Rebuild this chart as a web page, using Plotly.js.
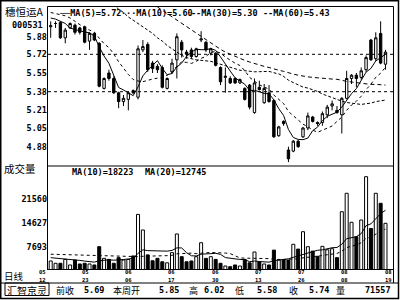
<!DOCTYPE html>
<html><head><meta charset="utf-8">
<script src="https://cdn.plot.ly/plotly-3.0.1.min.js"></script>
<style>html,body{margin:0;padding:0;background:#fff;}#chart{width:400px;height:300px;}</style>
</head><body><div id="chart"></div>
<script>
// ---------- data ----------
const openP  = [5.97,6.00,6.01,5.87,5.96,5.985,5.96,5.97,5.84,5.91, 5.82,5.41,5.55,5.50,5.37,5.29,5.31,5.39,5.33,5.76, 5.81,5.64,5.61,5.60,5.41,5.56,5.67,5.83,5.74,5.76, 5.70,5.85,5.83,5.73,5.73,5.60,5.51,5.50,5.50,5.46, 5.41,5.44,5.19,5.42,5.28,5.37,5.30,4.98,5.11,4.85, 4.84,4.93,4.97,5.05,5.15,5.10,5.10,5.17,5.25,5.21, 5.17,5.32,5.50,5.53,5.51,5.58,5.85,5.68,5.91,5.63];
const highP  = [6.02,6.02,6.02,5.96,6.01,6.00,5.97,5.98,5.92,5.92, 5.83,5.51,5.58,5.52,5.38,5.35,5.38,5.40,5.80,5.85, 5.83,5.66,5.63,5.62,5.51,5.68,5.91,5.85,5.76,5.78, 5.78,5.93,5.84,5.78,5.74,5.61,5.60,5.52,5.51,5.50, 5.42,5.45,5.50,5.48,5.45,5.44,5.31,5.07,5.12,4.88, 4.94,4.94,5.06,5.19,5.16,5.11,5.20,5.26,5.30,5.25, 5.33,5.57,5.54,5.55,5.60,5.71,5.86,5.92,6.02,5.76];
const lowP   = [5.87,5.96,5.86,5.82,5.95,5.90,5.90,5.82,5.76,5.84, 5.42,5.40,5.48,5.36,5.23,5.25,5.21,5.36,5.31,5.74, 5.56,5.55,5.55,5.41,5.40,5.54,5.50,5.69,5.68,5.68, 5.69,5.83,5.74,5.71,5.61,5.44,5.37,5.45,5.45,5.45, 5.30,5.22,5.18,5.39,5.27,5.28,4.96,4.97,5.07,4.74, 4.83,4.87,4.96,5.03,5.10,5.07,5.07,5.14,5.21,5.18, 5.00,5.31,5.45,5.42,5.49,5.56,5.66,5.66,5.63,5.58];
const closeP = [5.98,6.00,5.87,5.94,6.00,5.92,5.92,5.83,5.91,5.85, 5.43,5.50,5.50,5.37,5.29,5.32,5.37,5.37,5.77,5.79, 5.58,5.59,5.58,5.42,5.50,5.64,5.88,5.76,5.72,5.70, 5.77,5.86,5.76,5.77,5.62,5.47,5.52,5.46,5.46,5.49, 5.31,5.24,5.46,5.40,5.41,5.29,4.97,5.06,5.09,4.77, 4.93,4.88,5.05,5.16,5.11,5.09,5.18,5.24,5.27,5.19, 5.32,5.50,5.53,5.50,5.57,5.69,5.67,5.87,5.64,5.74];
const ma5  = [6.05,6.04,6.02,6.00,5.958,5.946,5.930,5.922,5.916,5.886, 5.788,5.704,5.638,5.530,5.418,5.396,5.370,5.344,5.424,5.524, 5.576,5.620,5.662,5.592,5.534,5.546,5.604,5.640,5.700,5.740, 5.766,5.762,5.762,5.772,5.756,5.696,5.628,5.568,5.506,5.480, 5.448,5.392,5.392,5.380,5.364,5.360,5.306,5.226,5.164,5.036, 4.964,4.946,4.944,4.958,5.026,5.058,5.118,5.156,5.178,5.194, 5.240,5.304,5.362,5.408,5.484,5.558,5.592,5.660,5.688,5.722];
const ma10 = [6.10,6.09,6.08,6.07,6.05,6.02,5.99,5.96,5.94,5.922, 5.867,5.817,5.780,5.723,5.652,5.592,5.537,5.491,5.477,5.471, 5.486,5.495,5.503,5.508,5.529,5.561,5.612,5.651,5.646,5.637, 5.656,5.683,5.701,5.736,5.748,5.731,5.695,5.665,5.639,5.618, 5.572,5.510,5.480,5.443,5.422,5.404,5.349,5.309,5.272,5.200, 5.162,5.126,5.085,5.061,5.031,5.011,5.032,5.050,5.068,5.110, 5.149,5.211,5.259,5.293,5.339,5.399,5.448,5.511,5.548,5.603];
const ma30 = [null,null,null,null,null,null,null,null,null,null, null,null,6.20,6.17,6.13,6.10,6.06,6.03,6.00,5.97, 5.94,5.91,5.87,5.84,5.80,5.77,5.74,5.71,5.69,5.677, 5.670,5.665,5.661,5.656,5.643,5.628,5.615,5.602,5.587,5.575, 5.571,5.563,5.561,5.562,5.566,5.565,5.552,5.542,5.519,5.485, 5.463,5.440,5.422,5.413,5.400,5.382,5.359,5.341,5.326,5.309, 5.294,5.282,5.275,5.266,5.264,5.271,5.276,5.290,5.296,5.304];
const ma60 = [null,null,null,null,null,null,null,null,null,null, null,null,null,null,null,null,null,null,null,null, null,null,6.15,6.12,6.09,6.06,6.03,6.00,5.97,5.94, 5.91,5.88,5.85,5.82,5.79,5.765,5.74,5.72,5.70,5.68, 5.665,5.65,5.635,5.62,5.61,5.60,5.585,5.575,5.565,5.55, 5.54,5.53,5.52,5.515,5.51,5.505,5.50,5.497,5.495,5.493, 5.482,5.474,5.468,5.461,5.454,5.450,5.446,5.447,5.442,5.440];
const volume = [3530,2860,2860,4000,2370,3820,2660,2860,2660,2370, 7693,4300,4000,2860,4500,3820,4000,5000,17100,12560, 5300,3600,4300,3300,3000,5960,11400,4780,3300,3530, 4780,8860,4300,4780,4000,2860,2070,1870,2370,2070, 4000,3000,6150,3300,2660,2370,6700,3820,3820,3820, 8390,7000,12060,7693,6400,4900,7800,6800,7100,4500, 17890,23250,14800,10600,15470,28084,13000,23250,20335,14510];
const volMa10 = [4500,4400,4300,4200,4000,3900,3700,3500,3300,3199, 3615,3759,3873,3759,3972,3972,4106,4320,5764,6783, 6544,6474,6504,6548,6398,6612,7352,7330,5950,5047, 4995,5521,5521,5669,5769,5459,4526,4235,4142,3996, 3918,3332,3517,3369,3235,3186,3649,3844,3989,4164, 4603,5003,5594,6033,6407,6660,6770,7068,7396,7464, 8414,10039,10313,10604,11511,13829,14349,15994,17318,18319];
const volMa20 = [5500,5450,5400,5350,5300,5250,5200,5150,5100,5050, 5050,5000,4950,4900,4850,4800,4750,4700,4800,4891, 4980,5017,5089,5054,5085,5192,5629,5725,5757,5815, 5670,5898,5913,6009,5984,5936,5839,5683,4946,4422, 4357,4327,4419,4419,4402,4223,3988,3940,3966,3980, 4161,4068,4456,4601,4721,4823,5110,5356,5593,5714, 6409,7421,7854,8219,8859,10145,10460,11431,12257,12792];

const priceTicks = [5.88,5.72,5.55,5.38,5.21,5.05,4.88];
const priceTickText = ['5.88','5.72','5.55','5.38','5.21','5.05','4.88'];
const refLevels = [5.72,5.38];
const volTicks = [21560,14627,7693];
const volTickText = ['21560','14627','7693'];
const dateMonths = ['05','05','06','06','06','07','07','08','08'];
const dateDays   = ['12','23','06','17','30','13','26','08','19'];
const priceLegend = ['──MA(5)=5.72','···MA(10)=5.60','--MA(30)=5.30','--MA(60)=5.43'];
const volLegend = ['MA(10)=18223','MA(20)=12745'];
const stockName = '穗恒运A', stockCode = '000531';
const infoLabels = ['前收','本周开','高','低','收','量'];
const infoValues = ['5.69','5.85','6.02','5.58','5.74','71557'];

// ---------- layout geometry (pixels) ----------
const L=48, R=393, T=6, B=270, SPLIT=166;
const px2x = p => (p-L)/(R-L);
const py2y = p => (B-p)/(B-T);
const BAR0=50.7, STEP=4.852;
const idx = closeP.map((_,i)=>i);
const priceAt = p => 5.38 + (91.7-p)/110;
const volAt = p => 7693 + (246.7-p)*291.3;

const MONO = 'DejaVu Sans Mono';
const CJK = 'Noto Sans CJK SC';
const monoFont = (s)=>({family:MONO,size:s||8.5,color:'#000',weight:'bold'});
const cjkFont = (s)=>({family:CJK,size:s||10,color:'#000'});

const traces = [
  {type:'candlestick', x:idx, open:openP, high:highP, low:lowP, close:closeP,
   xaxis:'x', yaxis:'y', whiskerwidth:0, hoverinfo:'skip',
   increasing:{line:{color:'#000',width:1}, fillcolor:'#fff'},
   decreasing:{line:{color:'#000',width:1}, fillcolor:'#000'}},
  {type:'scatter', mode:'lines', x:idx, y:ma5, yaxis:'y', line:{color:'#000',width:1}, hoverinfo:'skip'},
  {type:'scatter', mode:'lines', x:idx, y:ma10, yaxis:'y', line:{color:'#000',width:1,dash:'dot'}, hoverinfo:'skip'},
  {type:'scatter', mode:'lines', x:idx, y:ma30, yaxis:'y', line:{color:'#000',width:1,dash:'3px,2px'}, hoverinfo:'skip'},
  {type:'scatter', mode:'lines', x:idx, y:ma60, yaxis:'y', line:{color:'#000',width:1,dash:'4px,3px'}, hoverinfo:'skip'},
  {type:'bar', x:idx, y:volume, yaxis:'y2', width:0.62,
   marker:{color: closeP.map((c,i)=> c>=openP[i] ? '#fff' : '#000'), line:{color:'#000',width:1}}, hoverinfo:'skip'},
  {type:'scatter', mode:'lines', x:idx, y:volMa10, yaxis:'y2', line:{color:'#000',width:1}, hoverinfo:'skip'},
  {type:'scatter', mode:'lines', x:idx, y:volMa20, yaxis:'y2', line:{color:'#000',width:1,dash:'dot'}, hoverinfo:'skip'}
];

const shapes = [];
const hline = (y,x0,x1)=>shapes.push({type:'line',xref:'paper',yref:'paper',x0:px2x(x0),x1:px2x(x1),y0:py2y(y),y1:py2y(y),line:{color:'#000',width:1}});
const vline = (x,y0,y1)=>shapes.push({type:'line',xref:'paper',yref:'paper',x0:px2x(x),x1:px2x(x),y0:py2y(y0),y1:py2y(y1),line:{color:'#000',width:1}});
refLevels.forEach(v=>shapes.push({type:'line',xref:'paper',yref:'y',x0:0,x1:1,y0:v,y1:v,line:{color:'#000',width:1,dash:'dot'}}));
shapes.push({type:'rect',xref:'paper',yref:'paper',x0:px2x(0.75),x1:px2x(398.5),y0:py2y(0.75),y1:py2y(298.5),line:{color:'#000',width:1.5}});
hline(6.5,47.5,393.5);
vline(47.5,6.5,270);
vline(393.5,6.5,283);
hline(166,47.5,393.5);
hline(269.5,47.5,393.5);
hline(283,0.75,398.5);
shapes.push({type:'rect',xref:'paper',yref:'paper',x0:px2x(5),x1:px2x(49),y0:py2y(283),y1:py2y(295.5),line:{color:'#000',width:1}});

const ann = [];
const txt = (text,x,y,font,xanchor)=>ann.push({text:text,xref:'paper',yref:'paper',x:px2x(x),y:py2y(y),xanchor:xanchor||'left',yanchor:'middle',showarrow:false,font:font,borderpad:0});
const legX = [58,120,190,262];
priceLegend.forEach((t,i)=>txt(t,legX[i],13,monoFont(8.5)));
const vlegX = [71,144];
volLegend.forEach((t,i)=>txt(t,vlegX[i],171.5,monoFont(8.5)));
txt(stockName,24,11.5,cjkFont(10.5),'center');
txt(stockCode,43.5,24.5,monoFont(8.5),'right');
txt('成交量',3,168.5,cjkFont(10.5));
txt('日线',3,275.8,cjkFont(9.5));
dateMonths.forEach((m,k)=>{
  const cx = 42 + 43.25*k;
  txt(m,cx,272.4,monoFont(5.5),'center');
  txt(dateDays[k],cx,279.6,monoFont(5.5),'center');
});
txt('汇智京灵',27,290.2,cjkFont(10),'center');
const labX = [55,112,188,234,288,335];
const valX = [105,180,225,278,330,392];
infoLabels.forEach((t,i)=>txt(t,labX[i],290,cjkFont(9)));
infoValues.forEach((t,i)=>txt(t,valX[i],290,monoFont(8.5),'right'));

const layout = {
  width:400, height:300, margin:{l:L,r:400-R,t:T,b:300-B,pad:0},
  paper_bgcolor:'#fff', plot_bgcolor:'#fff', showlegend:false,
  xaxis:{range:[(L-BAR0)/STEP,(R-BAR0)/STEP], showgrid:false, zeroline:false, showticklabels:false, showline:false, ticks:'', rangeslider:{visible:false}, anchor:'y2', fixedrange:true},
  yaxis:{domain:[py2y(SPLIT),1], range:[priceAt(SPLIT),priceAt(T)], tickvals:priceTicks, ticktext:priceTickText, showgrid:false, zeroline:false, showline:false, ticks:'', tickfont:monoFont(8.5), fixedrange:true},
  yaxis2:{domain:[0,py2y(SPLIT)], range:[volAt(B),volAt(SPLIT)], tickvals:volTicks, ticktext:volTickText, showgrid:false, zeroline:false, showline:false, ticks:'', tickfont:monoFont(8.5), fixedrange:true},
  shapes:shapes, annotations:ann
};
Plotly.newPlot('chart', traces, layout, {displayModeBar:false, staticPlot:true});
</script></body></html>
